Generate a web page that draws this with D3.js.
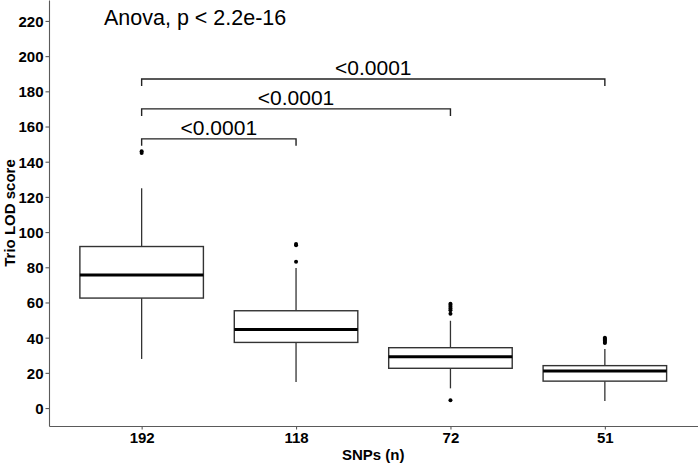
<!DOCTYPE html>
<html>
<head>
<meta charset="utf-8">
<script src="https://cdn.jsdelivr.net/npm/d3@7/dist/d3.min.js"></script>
<style>
  html, body { margin: 0; padding: 0; background: #fff; }
  svg { display: block; font-family: "Liberation Sans", Arial, sans-serif; }
</style>
</head>
<body>
<svg id="chart" width="699" height="466"></svg>
<script>
// ---- data ----
const categories = ["192", "118", "72", "51"];
const q1 = [62.5, 37.3, 22.6, 15.3];
const medians = [75.6, 44.7, 29.2, 21.0];
const q3 = [91.8, 55.3, 34.3, 24.1];
const whiskerLow = [27.9, 14.8, 11.2, 4.0];
const whiskerHigh = [124.9, 79.6, 49.6, 33.6];
const outliers = [
  [145.0, 146.0],
  [83.2, 92.5, 93.3],
  [4.4, 53.6, 55.6, 56.6, 57.6, 58.6, 59.3],
  [36.9, 37.5, 38.2, 38.8, 39.4, 40.0]
];
const yTicks = [0, 20, 40, 60, 80, 100, 120, 140, 160, 180, 200, 220];
const comparisons = [["192", "118"], ["192", "72"], ["192", "51"]];
const comparisonY = [153, 170, 187];
const comparisonLabels = ["<0.0001", "<0.0001", "<0.0001"];
const tipLength = 4;
const anovaText = "Anova, p < 2.2e-16";
const xTitle = "SNPs (n)";
const yTitle = "Trio LOD score";

// ---- layout ----
const svg = d3.select("#chart");
const mLeft = 49, mRight = 697.5, mTop = 0, mBottom = 426;

const x = d3.scalePoint().domain(categories).range([mLeft, mRight]).padding(0.6);
const step = x.step();
const boxW = step * 0.8;
const y = d3.scaleLinear().domain([-10.2, 231.9]).range([mBottom, mTop]);

const axisColor = "#5a5a5a";
const boxColor = "#333333";

// axes
const yAxis = svg.append("g").attr("transform", `translate(${mLeft},0)`)
  .call(d3.axisLeft(y).tickValues(yTicks).tickSize(3.5).tickPadding(2).tickSizeOuter(0));
const xAxis = svg.append("g").attr("transform", `translate(0,${mBottom})`)
  .call(d3.axisBottom(x).tickSize(3.5).tickPadding(3).tickSizeOuter(0));
[yAxis, xAxis].forEach(g => {
  g.select(".domain").attr("stroke", axisColor).attr("stroke-width", 1.1);
  g.selectAll(".tick line").attr("stroke", axisColor).attr("stroke-width", 1.1);
  g.selectAll(".tick text").attr("fill", "#000").attr("font-size", 15)
    .attr("font-weight", "bold").attr("font-family", "Liberation Sans, Arial, sans-serif");
});
yAxis.selectAll(".tick text").attr("dy", "0.36em");
xAxis.selectAll(".tick text").attr("dy", "0.72em");

// axis titles
svg.append("text").attr("x", (mLeft + mRight) / 2).attr("y", 460)
  .attr("text-anchor", "middle").attr("font-size", 15).attr("font-weight", "bold")
  .text(xTitle);
svg.append("text").attr("transform", `translate(15,${(mTop + mBottom) / 2}) rotate(-90)`)
  .attr("text-anchor", "middle").attr("font-size", 15).attr("font-weight", "bold")
  .text(yTitle);

// boxes
const boxes = svg.append("g");
categories.forEach((c, i) => {
  const cx = x(c);
  const g = boxes.append("g");
  g.append("line").attr("x1", cx).attr("x2", cx)
    .attr("y1", y(q3[i])).attr("y2", y(whiskerHigh[i]))
    .attr("stroke", boxColor).attr("stroke-width", 1.3);
  g.append("line").attr("x1", cx).attr("x2", cx)
    .attr("y1", y(q1[i])).attr("y2", y(whiskerLow[i]))
    .attr("stroke", boxColor).attr("stroke-width", 1.3);
  g.append("rect").attr("x", cx - boxW / 2).attr("width", boxW)
    .attr("y", y(q3[i])).attr("height", y(q1[i]) - y(q3[i]))
    .attr("fill", "#fff").attr("stroke", boxColor).attr("stroke-width", 1.4);
  g.append("line").attr("x1", cx - boxW / 2).attr("x2", cx + boxW / 2)
    .attr("y1", y(medians[i])).attr("y2", y(medians[i]))
    .attr("stroke", "#000").attr("stroke-width", 3);
  g.selectAll("circle").data(outliers[i]).join("circle")
    .attr("cx", cx).attr("cy", d => y(d)).attr("r", 2).attr("fill", "#000");
});

// comparison brackets
const br = svg.append("g");
comparisons.forEach((pair, i) => {
  const x1 = x(pair[0]), x2 = x(pair[1]);
  const yy = y(comparisonY[i]);
  const yt = y(comparisonY[i] - tipLength);
  br.append("path")
    .attr("d", `M${x1},${yt}L${x1},${yy}L${x2},${yy}L${x2},${yt}`)
    .attr("fill", "none").attr("stroke", "#222").attr("stroke-width", 1.4);
  br.append("text").attr("x", (x1 + x2) / 2).attr("y", yy - 4)
    .attr("text-anchor", "middle").attr("font-size", 21).attr("fill", "#000")
    .text(comparisonLabels[i]);
});

// anova label
svg.append("text").attr("x", 104).attr("y", 25).attr("font-size", 21.5)
  .attr("fill", "#000").text(anovaText);
</script>
</body>
</html>
